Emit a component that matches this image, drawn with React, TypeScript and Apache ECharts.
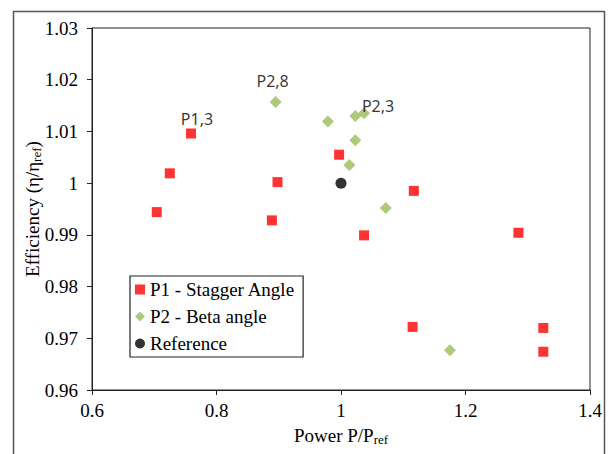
import React, { useEffect, useRef } from "react";
import * as echarts from "echarts";

const p1X = [0.759, 0.725, 0.704, 0.898, 0.889, 0.997, 1.037, 1.117, 1.285, 1.115, 1.325, 1.325];
const p1Y = [1.0096, 1.0019, 0.9944, 1.0002, 0.9928, 1.0055, 0.9899, 0.9985, 0.9904, 0.9722, 0.972, 0.9674];
const p2X = [0.895, 0.979, 1.023, 1.037, 1.023, 1.0135, 1.072, 1.175];
const p2Y = [1.0157, 1.0119, 1.013, 1.0135, 1.0083, 1.0035, 0.9952, 0.9677];
const refX = [1.0];
const refY = [1.0];
const seriesNames = ["P1 - Stagger Angle", "P2 - Beta angle", "Reference"];
const pointLabels = [
  { series: 0, index: 0, text: "P1,3" },
  { series: 1, index: 0, text: "P2,8" },
  { series: 1, index: 3, text: "P2,3" },
];
const xTicks = { min: 0.6, max: 1.4, interval: 0.2 };
const yTicks = { min: 0.96, max: 1.03, interval: 0.01 };

const labelStyles: Record<string, any> = {
  "P1,3": { distance: 1, offset: [6, 0] },
  "P2,8": { distance: 7, offset: [-3, 0] },
  "P2,3": { distance: 0, offset: [14, 7] },
};

function buildData(xs: number[], ys: number[], s: number) {
  return xs.map((x, i) => {
    const lab = pointLabels.find((l) => l.series === s && l.index === i);
    if (!lab) return [x, ys[i]];
    const st = labelStyles[lab.text];
    return {
      value: [x, ys[i]],
      label: {
        show: true,
        position: "top",
        formatter: lab.text,
        fontFamily: "Noto Sans",
        fontSize: 16,
        color: "#000",
        distance: st.distance,
        offset: st.offset,
      },
    };
  });
}

const fmt = (v: number) => String(parseFloat(v.toFixed(2)));
const serif = "Liberation Serif";
const nameRich = {
  a: { fontFamily: serif, fontSize: 19, color: "#000", lineHeight: 20, verticalAlign: "top", padding: [0, 0, 4, 0] },
  s: { fontFamily: serif, fontSize: 13, color: "#000", lineHeight: 14, verticalAlign: "bottom" },
};
const legendText = { fontFamily: serif, fontSize: 19, color: "#000" };

export default function App() {
  const ref = useRef<HTMLDivElement>(null);
  useEffect(() => {
    if (!ref.current) return;
    const chart = echarts.init(ref.current, undefined, { renderer: "svg" });
    chart.setOption({
      animation: false,
      backgroundColor: "#fff",
      textStyle: { fontFamily: serif },
      graphic: [
        {
          type: "rect",
          shape: { x: 13.5, y: 11.5, width: 591, height: 460 },
          style: { fill: "none", stroke: "#555", lineWidth: 1.5 },
          silent: true,
        },
      ],
      grid: {
        left: 92,
        right: 20,
        top: 28,
        bottom: 61,
        show: true,
        borderColor: "#222",
        borderWidth: 1,
        backgroundColor: "transparent",
      },
      legend: {
        orient: "vertical",
        left: 130,
        top: 276,
        data: [
          { name: seriesNames[0], icon: "rect", textStyle: legendText },
          { name: seriesNames[1], icon: "diamond", textStyle: legendText },
          { name: seriesNames[2], icon: "circle", textStyle: legendText },
        ],
        itemWidth: 10,
        itemHeight: 10,
        itemGap: 8,
        padding: [4, 8, 4, 5],
        borderColor: "#222",
        borderWidth: 1.2,
        borderRadius: 0,
        textStyle: legendText,
      },
      xAxis: {
        type: "value",
        min: xTicks.min,
        max: xTicks.max,
        interval: xTicks.interval,
        splitLine: { show: false },
        axisLine: { lineStyle: { color: "#222" } },
        axisTick: { show: true, inside: false, length: 5, lineStyle: { color: "#222" } },
        axisLabel: { fontFamily: serif, fontSize: 19, color: "#000", margin: 11, formatter: fmt },
        name: "{a|Power P/P}{s|ref}",
        nameLocation: "middle",
        nameGap: 36,
        nameMoveOverlap: false,
        nameTextStyle: { rich: nameRich },
      },
      yAxis: {
        type: "value",
        min: yTicks.min,
        max: yTicks.max,
        interval: yTicks.interval,
        splitLine: { show: false },
        axisLine: { show: true, lineStyle: { color: "#222" } },
        axisTick: { show: true, inside: false, length: 5, lineStyle: { color: "#222" } },
        axisLabel: { fontFamily: serif, fontSize: 19, color: "#000", margin: 14, formatter: fmt },
        name: "{a|Efficiency (η/η}{s|ref}{a|)}",
        nameLocation: "middle",
        nameGap: 49,
        nameMoveOverlap: false,
        nameTextStyle: { rich: nameRich },
      },
      series: [
        {
          name: seriesNames[0],
          type: "scatter",
          symbol: "rect",
          symbolSize: 10,
          itemStyle: { color: "#FF0000" },
          data: buildData(p1X, p1Y, 0),
        },
        {
          name: seriesNames[1],
          type: "scatter",
          symbol: "diamond",
          symbolSize: 12,
          itemStyle: { color: "#9BBB59" },
          data: buildData(p2X, p2Y, 1),
        },
        {
          name: seriesNames[2],
          type: "scatter",
          symbol: "circle",
          symbolSize: 11,
          itemStyle: { color: "#000" },
          data: buildData(refX, refY, 2),
        },
      ],
    });
    return () => chart.dispose();
  }, []);
  return <div ref={ref} style={{ width: 610, height: 454, position: "absolute", left: 0, top: 0 }} />;
}
